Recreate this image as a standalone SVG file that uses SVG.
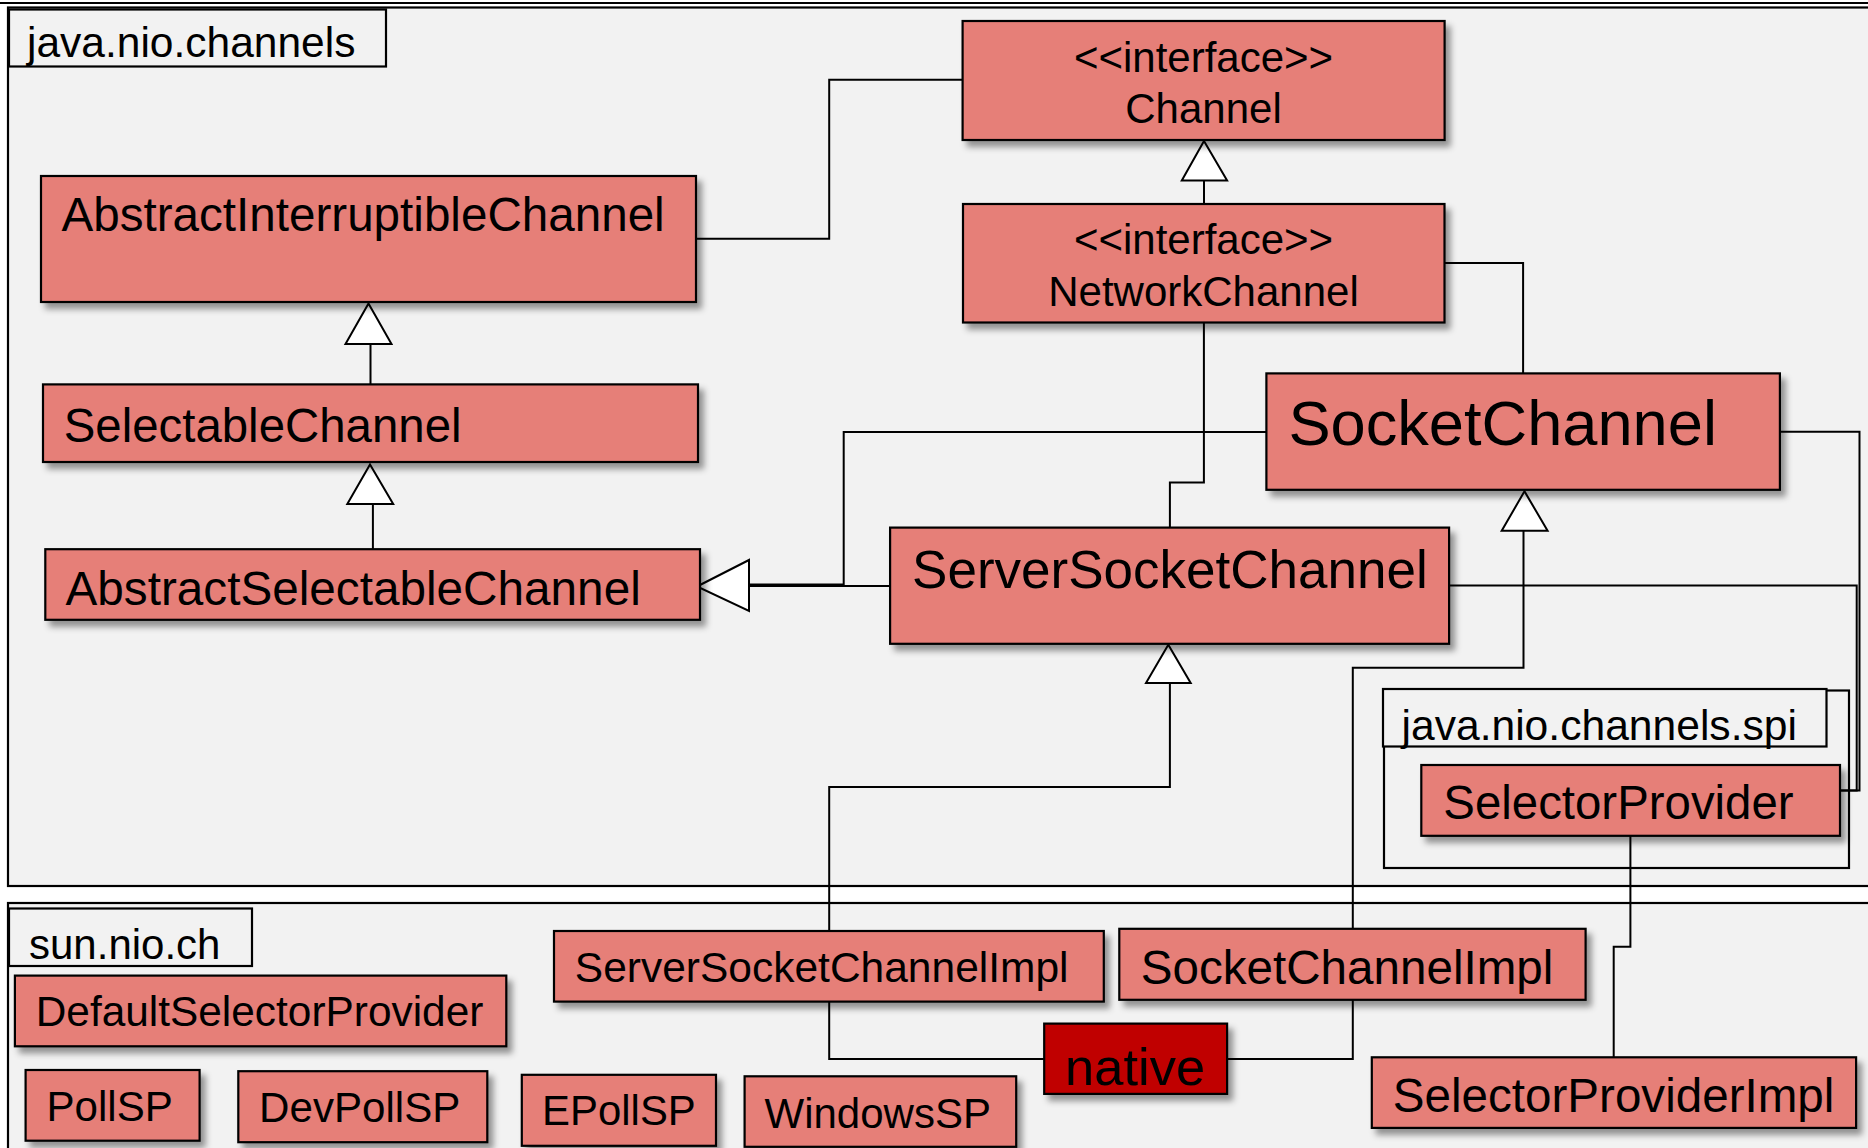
<svg xmlns="http://www.w3.org/2000/svg" width="1868" height="1148" viewBox="0 0 1868 1148">
<defs>
<filter id="sh" x="-10%" y="-20%" width="130%" height="150%">
<feDropShadow dx="5" dy="6" stdDeviation="3" flood-color="#000" flood-opacity="0.4"/>
</filter>
</defs>
<style>
.frame{fill:#F2F2F2;stroke:#000;stroke-width:2.2}
.lbl{fill:#F2F2F2;stroke:#000;stroke-width:2.2}
.box{fill:#E67F78;stroke:#000;stroke-width:2.2;filter:url(#sh)}
.nat{fill:#C00000;stroke:#000;stroke-width:2.2;filter:url(#sh)}
text{font-family:"Liberation Sans",Arial,sans-serif;fill:#000}
.c{fill:none;stroke:#000;stroke-width:2}
.tri{fill:#fff;stroke:#000;stroke-width:2;stroke-linejoin:miter}
</style>
<rect x="0" y="0" width="1868" height="1148" fill="#fff"/>
<g id="frames">
<line x1="0" y1="3" x2="1868" y2="3" stroke="#000" stroke-width="2.2"/>
<g id="pkg-channels">
<rect class="frame" x="8" y="7.5" width="1880" height="878.5"/>
<rect class="lbl" x="9" y="9.5" width="377" height="57"/>
<text x="27" y="57" font-size="42.5">java.nio.channels</text>
</g>
<g id="pkg-sun">
<rect class="frame" x="8" y="903" width="1880" height="260"/>
<rect class="lbl" x="9" y="908.5" width="243" height="57.5"/>
<text x="29" y="959" font-size="42">sun.nio.ch</text>
</g>
<g id="pkg-spi">
<rect class="frame" x="1384" y="690.5" width="465" height="177.5"/>
<rect class="lbl" x="1383" y="689" width="443.5" height="57.5"/>
<text x="1401.5" y="740" font-size="42.6">java.nio.channels.spi</text>
</g>
</g>
<g id="connectors">
<polyline class="c" points="695.8,238.7 829.2,238.7 829.2,79.8 962.6,79.8"/>
<line class="c" x1="370.5" y1="344" x2="370.5" y2="384.4"/>
<polygon class="tri" points="368.5,303.5 345.5,344 391.5,344"/>
<line class="c" x1="372.9" y1="504" x2="372.9" y2="549.2"/>
<polygon class="tri" points="370,464.5 347.3,504 393.2,504"/>
<line class="c" x1="1204" y1="180.5" x2="1204" y2="203.9"/>
<polygon class="tri" points="1204,141 1181.8,180.5 1227.1,180.5"/>
<polyline class="c" points="1444.5,262.9 1523.1,262.9 1523.1,373.4"/>
<polyline class="c" points="1203.9,322.5 1203.9,482.4 1169.9,482.4 1169.9,527.6"/>
<polyline class="c" points="1266.4,432 843.7,432 843.7,584.4 749,584.4"/>
<line class="c" x1="890" y1="586" x2="749" y2="586"/>
<polygon class="tri" points="697,586.5 749,560 749,611"/>
<polyline class="c" points="1449,585.5 1856.7,585.5 1856.7,790.5 1840,790.5"/>
<polyline class="c" points="1780,431.7 1859.5,431.7 1859.5,790.5 1840,790.5"/>
<polyline class="c" points="1169.9,683.1 1169.9,787.1 829.2,787.1 829.2,931"/>
<polygon class="tri" points="1168.3,644.7 1146,683.1 1190.7,683.1"/>
<polyline class="c" points="1523.5,530.8 1523.5,667.7 1352.8,667.7 1352.8,928.8"/>
<polygon class="tri" points="1524.5,491.3 1501.7,530.8 1547.6,530.8"/>
<polyline class="c" points="829.2,1001.6 829.2,1059.1 1044.2,1059.1"/>
<polyline class="c" points="1227.1,1059.1 1352.8,1059.1 1352.8,999.8"/>
<polyline class="c" points="1630.4,835.8 1630.4,946.7 1613.7,946.7 1613.7,1057.3"/>
</g>
<g id="Channel">
<rect class="box" x="962.6" y="21" width="482" height="119"/>
<text x="1203.5" y="72" font-size="42" text-anchor="middle">&lt;&lt;interface&gt;&gt;</text>
<text x="1203.5" y="122.5" font-size="42" text-anchor="middle">Channel</text>
</g>
<g id="NetworkChannel">
<rect class="box" x="963" y="204" width="481.5" height="118.5"/>
<text x="1203.5" y="253.7" font-size="42" text-anchor="middle">&lt;&lt;interface&gt;&gt;</text>
<text x="1203.5" y="305.7" font-size="42" text-anchor="middle">NetworkChannel</text>
</g>
<g id="AbstractInterruptibleChannel">
<rect class="box" x="41" y="176" width="655" height="126"/>
<text x="61.5" y="231.4" font-size="47.6">AbstractInterruptibleChannel</text>
</g>
<g id="SelectableChannel">
<rect class="box" x="43" y="384.4" width="655" height="77.6"/>
<text x="63.7" y="441.9" font-size="47.4">SelectableChannel</text>
</g>
<g id="AbstractSelectableChannel">
<rect class="box" x="45.3" y="549.2" width="654.7" height="70.6"/>
<text x="65.5" y="605.1" font-size="47.7">AbstractSelectableChannel</text>
</g>
<g id="SocketChannel">
<rect class="box" x="1266.4" y="373.4" width="513.5" height="116.4"/>
<text x="1288.4" y="444.8" font-size="63.2">SocketChannel</text>
</g>
<g id="ServerSocketChannel">
<rect class="box" x="890.1" y="527.6" width="559" height="116.2"/>
<text x="912.1" y="588.2" font-size="53">ServerSocketChannel</text>
</g>
<g id="SelectorProvider">
<rect class="box" x="1421.3" y="765" width="418.7" height="70.8"/>
<text x="1443.3" y="819.3" font-size="47.4">SelectorProvider</text>
</g>
<g id="DefaultSelectorProvider">
<rect class="box" x="14.9" y="975.6" width="491.4" height="70.7"/>
<text x="35.7" y="1026.1" font-size="42.4">DefaultSelectorProvider</text>
</g>
<g id="PollSP">
<rect class="box" x="25.6" y="1070" width="174" height="70.7"/>
<text x="46.5" y="1121.3" font-size="42.1">PollSP</text>
</g>
<g id="DevPollSP">
<rect class="box" x="238.3" y="1071.2" width="249" height="71"/>
<text x="259.1" y="1122" font-size="42.1">DevPollSP</text>
</g>
<g id="EPollSP">
<rect class="box" x="521.8" y="1074.8" width="194.2" height="71"/>
<text x="542.1" y="1125" font-size="41.9">EPollSP</text>
</g>
<g id="WindowsSP">
<rect class="box" x="744.6" y="1076.3" width="271.6" height="70.5"/>
<text x="764.5" y="1128" font-size="42">WindowsSP</text>
</g>
<g id="ServerSocketChannelImpl">
<rect class="box" x="554" y="931" width="549.8" height="70.6"/>
<text x="574.8" y="982.2" font-size="42.5">ServerSocketChannelImpl</text>
</g>
<g id="SocketChannelImpl">
<rect class="box" x="1119.3" y="928.8" width="466.3" height="71"/>
<text x="1140.7" y="984" font-size="47.6">SocketChannelImpl</text>
</g>
<g id="native">
<rect class="nat" x="1044.2" y="1023.6" width="182.9" height="70.3"/>
<text x="1065" y="1084.7" font-size="52.5">native</text>
</g>
<g id="SelectorProviderImpl">
<rect class="box" x="1371.8" y="1057.3" width="484.3" height="70.6"/>
<text x="1392.7" y="1112.2" font-size="47.6">SelectorProviderImpl</text>
</g>
</svg>
